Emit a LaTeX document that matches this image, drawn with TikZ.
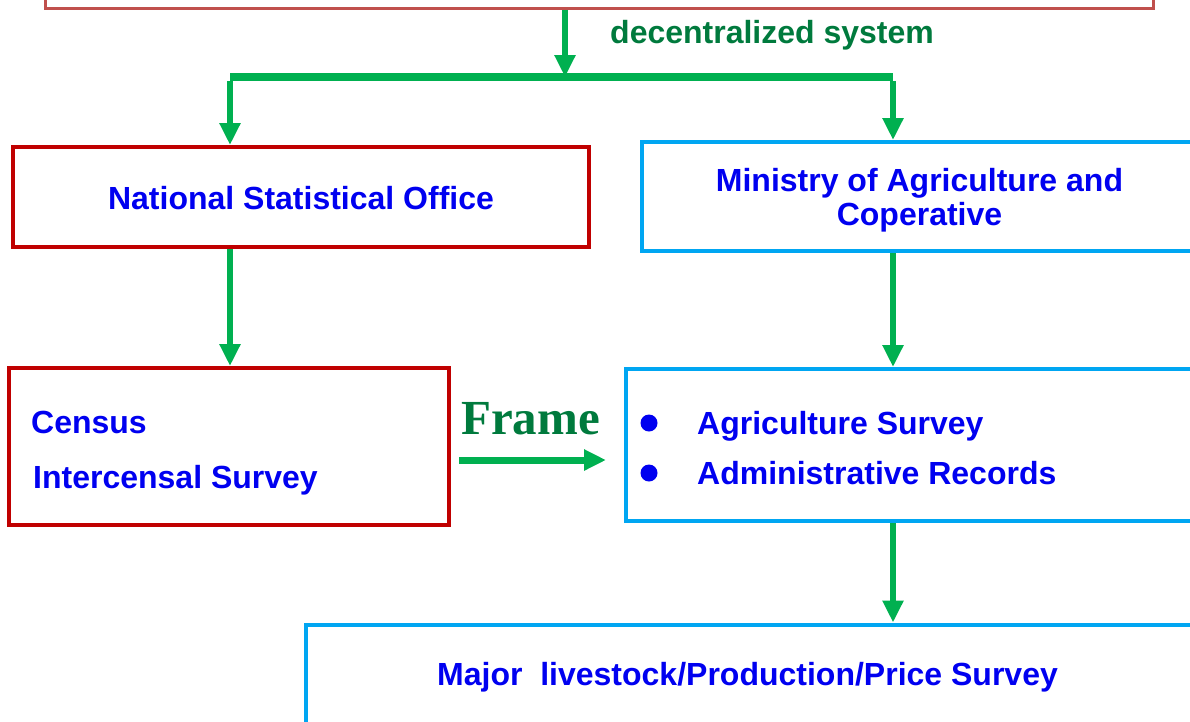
\documentclass[tikz,border=0pt]{standalone}
\usepackage{fontspec}
\setmainfont{Liberation Sans}
\newfontfamily\framefont{Liberation Serif}
\usetikzlibrary{arrows.meta,positioning}
\definecolor{topred}{HTML}{C0504D}
\definecolor{boxred}{HTML}{C00000}
\definecolor{boxblue}{HTML}{00A6F2}
\definecolor{txtblue}{HTML}{0000F0}
\definecolor{arrgreen}{HTML}{00B050}
\definecolor{lblgreen}{HTML}{007A3D}

\begin{document}
\begin{tikzpicture}[x=1pt,y=-1pt,
	redbox/.style={rectangle, draw=boxred, line width=4pt, inner sep=0pt},
	bluebox/.style={rectangle, draw=boxblue, line width=4pt, inner sep=0pt},
	flow/.style={draw=arrgreen, line width=5.5pt, -{Triangle[length=22pt,width=20pt]}},
	txt/.style={text=txtblue, inner sep=0pt, font=\bfseries\fontsize{32}{34}\selectfont}]
	\useasboundingbox (0,0) rectangle (1190,721);
	\clip (0,0) rectangle (1190,721);
	% boxes
	\node[draw=topred, line width=3pt, minimum width=1108pt, minimum height=60pt] (top) at (599,-22) {};
	\node[redbox, minimum width=576pt, minimum height=100pt] (nso) at (301,197) {};
	\node[bluebox, minimum width=608pt, minimum height=109pt] (moac) at (946,196.5) {};
	\node[redbox, minimum width=440pt, minimum height=157pt] (census) at (229,446.5) {};
	\node[bluebox, minimum width=624pt, minimum height=152pt] (surv) at (938,445) {};
	\node[bluebox, minimum width=944pt, minimum height=175pt] (major) at (778,712) {};
	% texts
	\node[txt, anchor=base] (nsotxt) at (301,209) {National Statistical Office};
	\node[txt, align=center] (moactxt) at (919.5,200) {Ministry of Agriculture and\\Coperative};
	\node[txt, anchor=base west] (cens) at (31,433) {Census};
	\node[txt, anchor=base west] (inter) at (33,488) {Intercensal Survey};
	\node[circle, fill=txtblue, inner sep=0pt, minimum size=17pt] (b1) at (649,423) {};
	\node[circle, fill=txtblue, inner sep=0pt, minimum size=17pt] (b2) at (649,473) {};
	\node[txt, anchor=base west] (agri) at (697,434) {Agriculture Survey};
	\node[txt, anchor=base west] (admin) at (697,484) {Administrative Records};
	\node[txt, anchor=base west] (majtxt) at (437,685) {Major\ \ livestock/Production/Price Survey};
	\node[text=lblgreen, inner sep=0pt, anchor=base west, font=\bfseries\fontsize{32}{34}\selectfont] (dec) at (610,43) {decentralized system};
	\node[text=lblgreen, inner sep=0pt, anchor=base west, font=\framefont\bfseries\fontsize{49}{49}\selectfont] (frame) at (461,434) {Frame};
	% connectors
	\coordinate (split) at (565,77);
	\coordinate (barl) at (230,77);
	\coordinate (barr) at (893,77);
	\coordinate (frm) at (459,460);
	\draw[flow] (top.south -| split) -- (split);
	\draw[arrgreen, line width=8pt] (barl) -- (barr); % bar
	\draw[flow] ([yshift=-4pt]barl) -- (nso.north -| barl);
	\draw[flow] ([yshift=-4pt]barr) -- (moac.north -| barr);
	\draw[flow] (nso.south -| barl) -- (census.north -| barl);
	\draw[flow] (moac.south -| barr) -- (surv.north -| barr);
	\draw[flow] (surv.south -| barr) -- (major.north -| barr);
	\draw[flow, line width=7pt] (frm) -- ([xshift=-18pt]surv.west |- frm); % frame arrow
\end{tikzpicture}
\end{document}
